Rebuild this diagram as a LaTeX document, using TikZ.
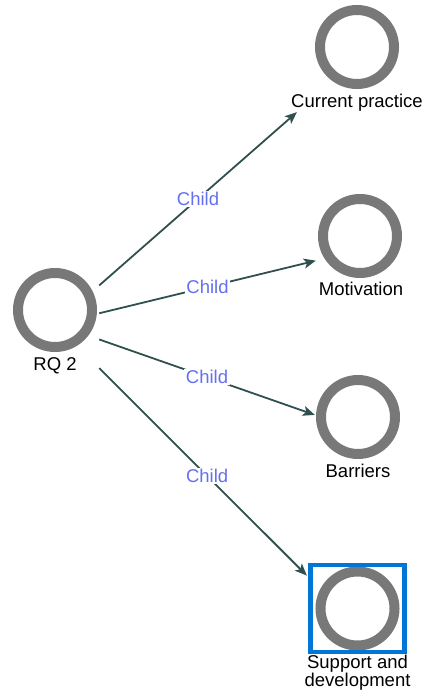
\documentclass[tikz,border=0pt]{standalone}
\usepackage{fontspec}
\setmainfont{Liberation Sans}
\usetikzlibrary{arrows.meta}
\definecolor{ringgray}{RGB}{120,120,120}
\definecolor{edgecol}{RGB}{47,80,78}
\definecolor{childcol}{RGB}{100,112,240}
\definecolor{selblue}{RGB}{0,118,214}
\begin{document}
\begin{tikzpicture}[x=1pt,y=-1pt,
  ring/.style={circle,draw=ringgray,line width=10pt,inner sep=0pt,minimum size=74pt},
  grp/.style={rectangle,draw=none,inner sep=0pt},
  lbl/.style={inner sep=0pt,anchor=base,font=\fontsize{18.5}{17}\selectfont},
  conn/.style={draw=edgecol,line width=1.8pt,-{Stealth[length=12pt,width=10pt,inset=3pt]}},
  childlbl/.style={fill=white,inner sep=1.5pt,text=childcol,font=\fontsize{18.5}{17}\selectfont},
  selbox/.style={rectangle,draw=selblue,line width=4.5pt,inner sep=0pt}]
\useasboundingbox (0,0) rectangle (425,690);
% rings
\node[ring] (rqc) at (55,310) {};
\node[ring] (cpc) at (357,47) {};
\node[ring] (moc) at (360,236) {};
\node[ring] (bac) at (358,417) {};
\node[ring] (suc) at (357.5,608.5) {};
% labels
\node[lbl] (rqt) at (55,370) {RQ 2};
\node[lbl] (cpt) at (357,107) {Current practice};
\node[lbl] (mot) at (361,295) {Motivation};
\node[lbl] (bat) at (358,477) {Barriers};
\node[inner sep=0pt,anchor=north,align=center,font=\fontsize{18.5}{17}\selectfont] (sut) at (357.5,654.5) {Support and\\development};
% selection box
\node[selbox,minimum width=94pt,minimum height=87pt] (sel) at (357.5,608.5) {};
% invisible groups for connector ends
\node[grp,minimum width=88pt,minimum height=96pt] (rq) at (55,324) {};
\node[grp,minimum width=133pt,minimum height=106pt] (cp) at (357.5,59) {};
\node[grp,minimum width=88pt,minimum height=100pt] (mo) at (360,250) {};
\node[grp,minimum width=86pt,minimum height=104pt] (ba) at (358,430) {};
\node[grp,minimum width=101pt,minimum height=128pt] (su) at (357.5,626) {};
% connectors
\draw[conn] (rq) -- node[childlbl] {Child} (cp);
\draw[conn] (rq) -- node[childlbl] {Child} (mo);
\draw[conn] (rq) -- node[childlbl] {Child} (ba);
\draw[conn] (rq) -- node[childlbl,pos=0.52] {Child} (su);
\end{tikzpicture}
\end{document}
